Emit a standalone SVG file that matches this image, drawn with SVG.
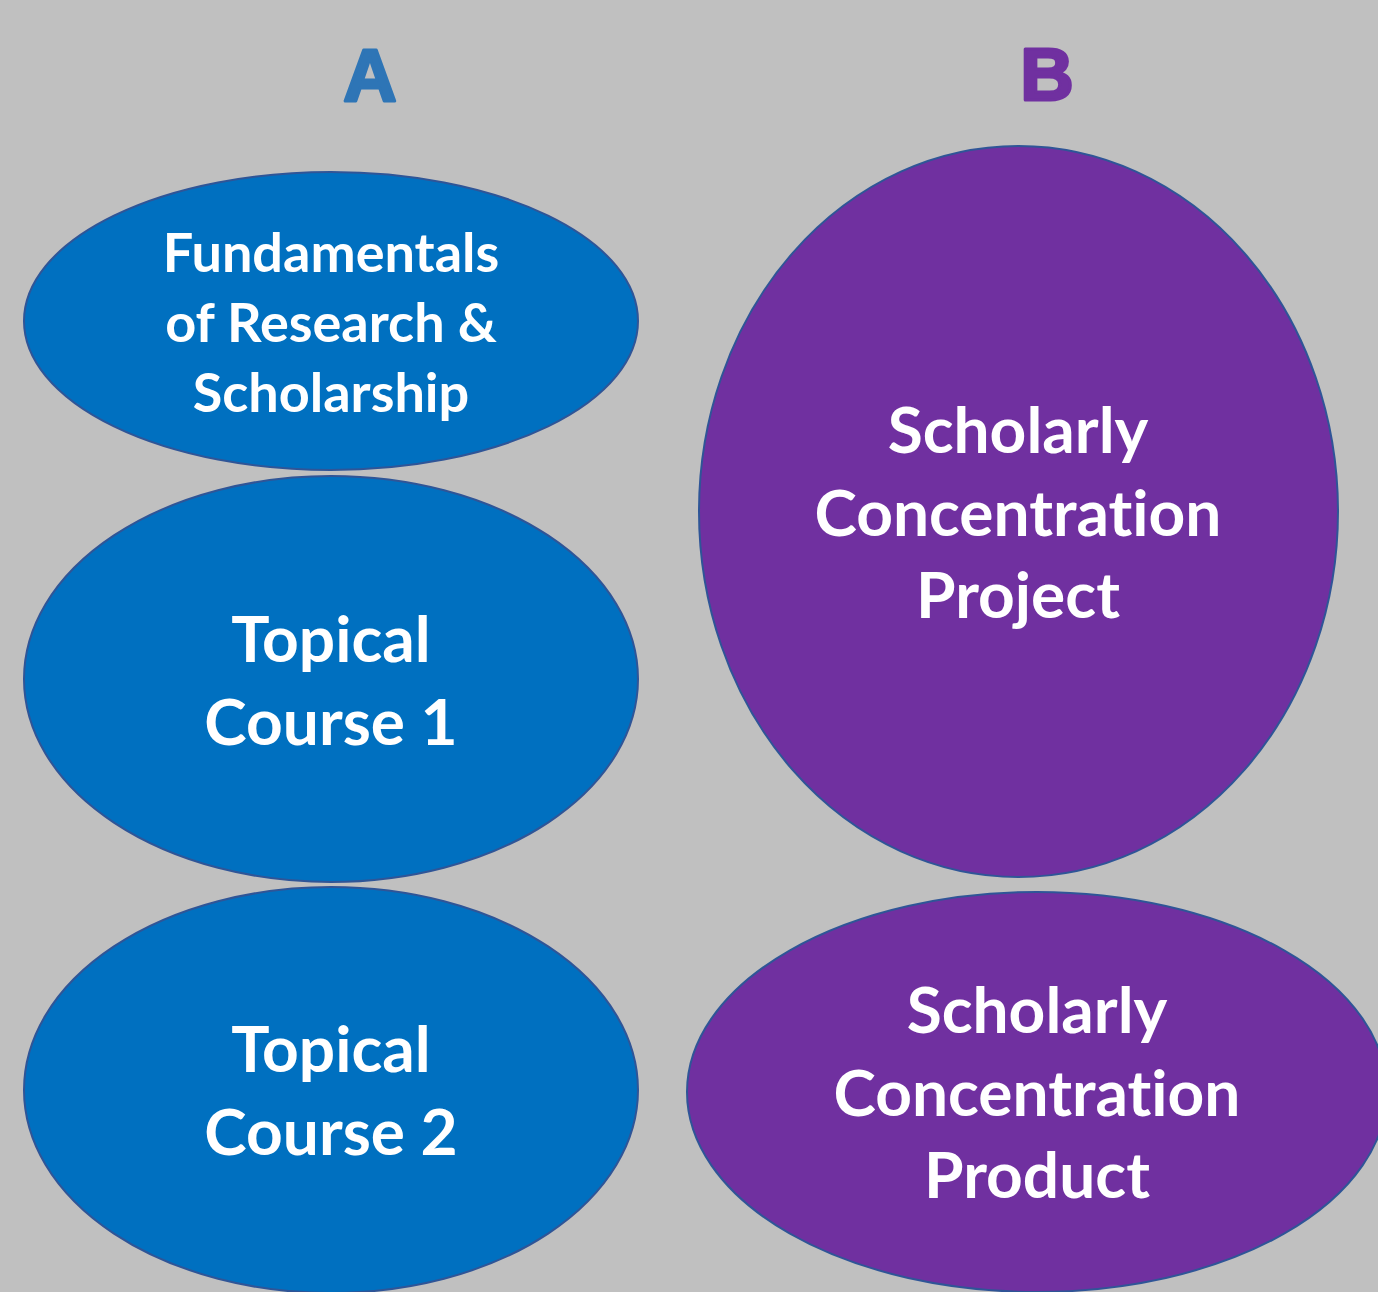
<svg xmlns="http://www.w3.org/2000/svg" width="1378" height="1292" viewBox="0 0 1378 1292">
<style>
.bg{fill:#C0C0C0}
.blue{fill:#0070C0;stroke:#2F5597;stroke-width:2}
.purple{fill:#7030A0;stroke:#2F5597;stroke-width:2}
.t{font-family:Lato,"Open Sans",sans-serif;font-weight:bold;fill:#FFFFFF;text-anchor:middle;font-variant-ligatures:none}
.s{font-size:54px}
.l{font-size:64px}
.hdr{font-family:"Liberation Sans",Arial,sans-serif;font-weight:bold;font-size:74px;text-anchor:middle;stroke-width:3;stroke-linejoin:round}
</style>
<rect class="bg" x="0" y="0" width="1378" height="1292"/>
<text class="hdr" x="370" y="101" fill="#2E75B6" stroke="#2E75B6">A</text>
<text class="hdr" x="1047" y="100" fill="#7030A0" stroke="#7030A0">B</text>
<g id="fundamentals">
<ellipse class="blue" cx="331" cy="321" rx="307" ry="149"/>
<text class="t s" x="331" y="272">Fundamentals</text>
<text class="t s" x="331" y="342">of Research &amp;</text>
<text class="t s" x="331" y="412">Scholarship</text>
</g>
<g id="topical1">
<ellipse class="blue" cx="331" cy="679" rx="307" ry="203"/>
<text class="t l" x="331" y="662">Topical</text>
<text class="t l" x="331" y="745">Course 1</text>
</g>
<g id="topical2">
<ellipse class="blue" cx="331" cy="1090" rx="307" ry="203"/>
<text class="t l" x="331" y="1072">Topical</text>
<text class="t l" x="331" y="1155">Course 2</text>
</g>
<g id="project">
<ellipse class="purple" cx="1018.5" cy="511.5" rx="319.5" ry="365.5"/>
<text class="t l" x="1018" y="453">Scholarly</text>
<text class="t l" x="1018" y="536">Concentration</text>
<text class="t l" x="1018" y="618">Project</text>
</g>
<g id="product">
<ellipse class="purple" cx="1037" cy="1092" rx="350" ry="200"/>
<text class="t l" x="1037" y="1033">Scholarly</text>
<text class="t l" x="1037" y="1116">Concentration</text>
<text class="t l" x="1037" y="1198">Product</text>
</g>
<g id="connectors"></g>
</svg>
